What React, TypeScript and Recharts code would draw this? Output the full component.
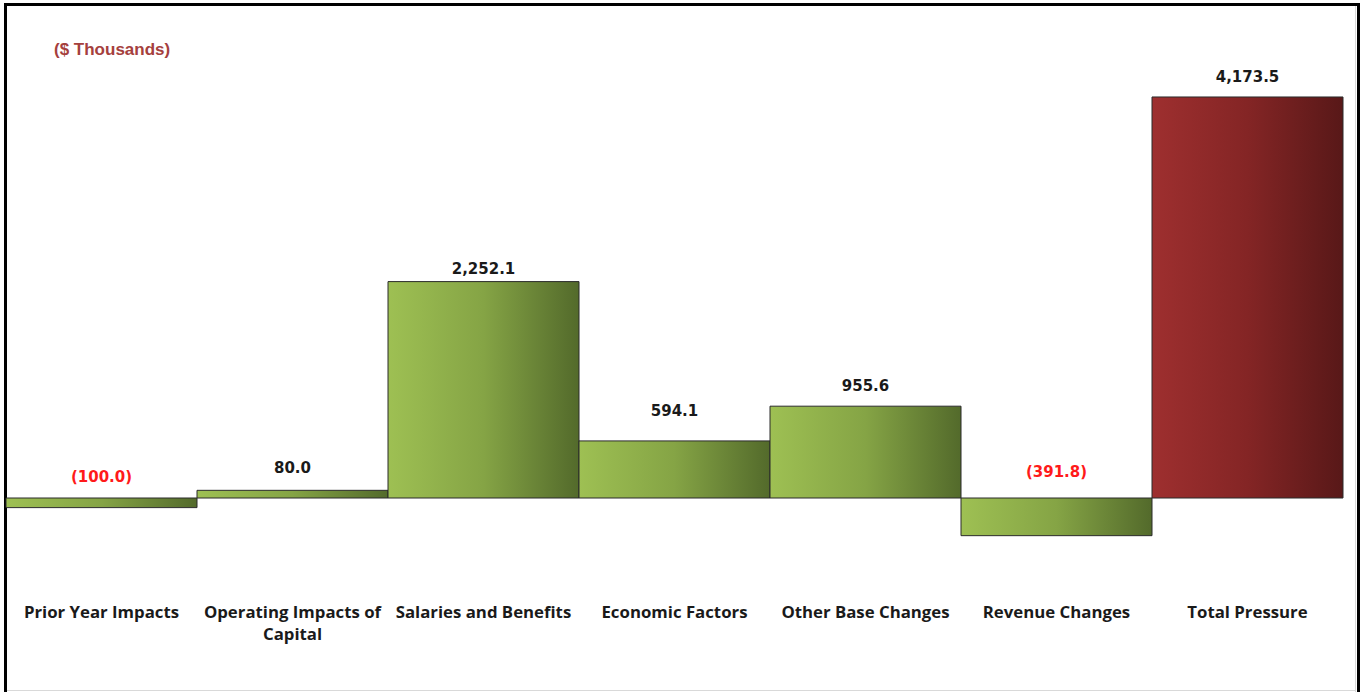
import React from "react";
import { BarChart, Bar, XAxis, YAxis, Cell, LabelList, Text } from "recharts";

// Budget pressure components, $ thousands
const categories = [
  "Prior Year Impacts",
  "Operating Impacts of Capital",
  "Salaries and Benefits",
  "Economic Factors",
  "Other Base Changes",
  "Revenue Changes",
  "Total Pressure",
];
const values = [-100.0, 80.0, 2252.1, 594.1, 955.6, -391.8, 4173.5];
const barKinds = ["change", "change", "change", "change", "change", "change", "total"];

const data = categories.map((name, i) => ({ name, value: values[i], kind: barKinds[i] }));

// how far each value label sits above the top edge of its bar (or the zero line)
const labelLift = [21, 22, 13, 30, 20, 26, 20];

const W = 1360;
const H = 692;
const labelFont = "'DejaVu Sans', Verdana, sans-serif";
const catFont = "'Open Sans', 'Noto Sans', sans-serif";

const fmt = (v: number) => {
  const s = Math.abs(v).toLocaleString("en-US", { minimumFractionDigits: 1, maximumFractionDigits: 1 });
  return v < 0 ? `(${s})` : s;
};

const ValueLabel = (props: any) => {
  const { x, y, width, height, value, index } = props;
  const top = Math.min(y, y + height);
  return (
    <text
      x={x + width / 2}
      y={top - labelLift[index]}
      textAnchor="middle"
      dominantBaseline="central"
      fontFamily={labelFont}
      fontWeight="bold"
      fontSize={15}
      fill={value < 0 ? "#FF1A1A" : "#1a1a1a"}
    >
      {fmt(value)}
    </text>
  );
};

const catStyle = { fontFamily: catFont, fontWeight: 700, fontSize: "16.8px" };

const CategoryTick = (props: any) => {
  const { x, y, payload } = props;
  return (
    <Text
      x={x}
      y={y}
      width={186}
      textAnchor="middle"
      verticalAnchor="start"
      lineHeight={22}
      style={catStyle}
      fontFamily={catFont}
      fontWeight="bold"
      fontSize={16.8}
      fill="#1a1a1a"
    >
      {payload.value}
    </Text>
  );
};

export default function App() {
  return (
    <div style={{ position: "absolute", left: 0, top: 0, width: W, height: H, overflow: "hidden", background: "#fff" }}>
      <div
        style={{
          position: "absolute",
          left: 4,
          top: 3,
          width: 1356,
          height: 720,
          border: "3px solid #000",
          boxSizing: "border-box",
        }}
      />
      <div style={{ position: "absolute", left: 7, top: 690, width: 1349, height: 1, background: "#d9d9d9" }} />
      <div style={{ position: "absolute", left: 1355, top: 6, width: 1, height: 690, background: "#d9d9d9" }} />
      <div
        style={{
          position: "absolute",
          left: 54,
          top: 40,
          fontFamily: "'Liberation Sans', Arial, sans-serif",
          fontWeight: "bold",
          fontSize: 17,
          color: "#A5403D",
          whiteSpace: "nowrap",
        }}
      >
        ($ Thousands)
      </div>
      <div style={{ position: "absolute", left: 0, top: 0 }}>
        <BarChart
          width={W}
          height={H}
          data={data}
          margin={{ top: 65.6, right: 17, bottom: 37.9, left: 6 }}
          barCategoryGap={0}
          barGap={0}
        >
          <defs>
            <linearGradient id="greenFill" x1="0" y1="0" x2="1" y2="0">
              <stop offset="0%" stopColor="#9EC053" />
              <stop offset="50%" stopColor="#85A445" />
              <stop offset="100%" stopColor="#536A2B" />
            </linearGradient>
            <linearGradient id="redFill" x1="0" y1="0" x2="1" y2="0">
              <stop offset="0%" stopColor="#9E2F2F" />
              <stop offset="50%" stopColor="#842525" />
              <stop offset="100%" stopColor="#581818" />
            </linearGradient>
          </defs>
          <XAxis
            dataKey="name"
            axisLine={false}
            tickLine={false}
            height={60}
            interval={0}
            tick={<CategoryTick />}
            tickMargin={6}
          />
          <YAxis hide domain={[-1000, 4500]} allowDataOverflow />
          <Bar dataKey="value" isAnimationActive={false} stroke="#2b2b2b" strokeWidth={1}>
            {data.map((d, i) => (
              <Cell key={i} fill={d.kind === "total" ? "url(#redFill)" : "url(#greenFill)"} />
            ))}
            <LabelList dataKey="value" content={<ValueLabel />} />
          </Bar>
        </BarChart>
      </div>
    </div>
  );
}
